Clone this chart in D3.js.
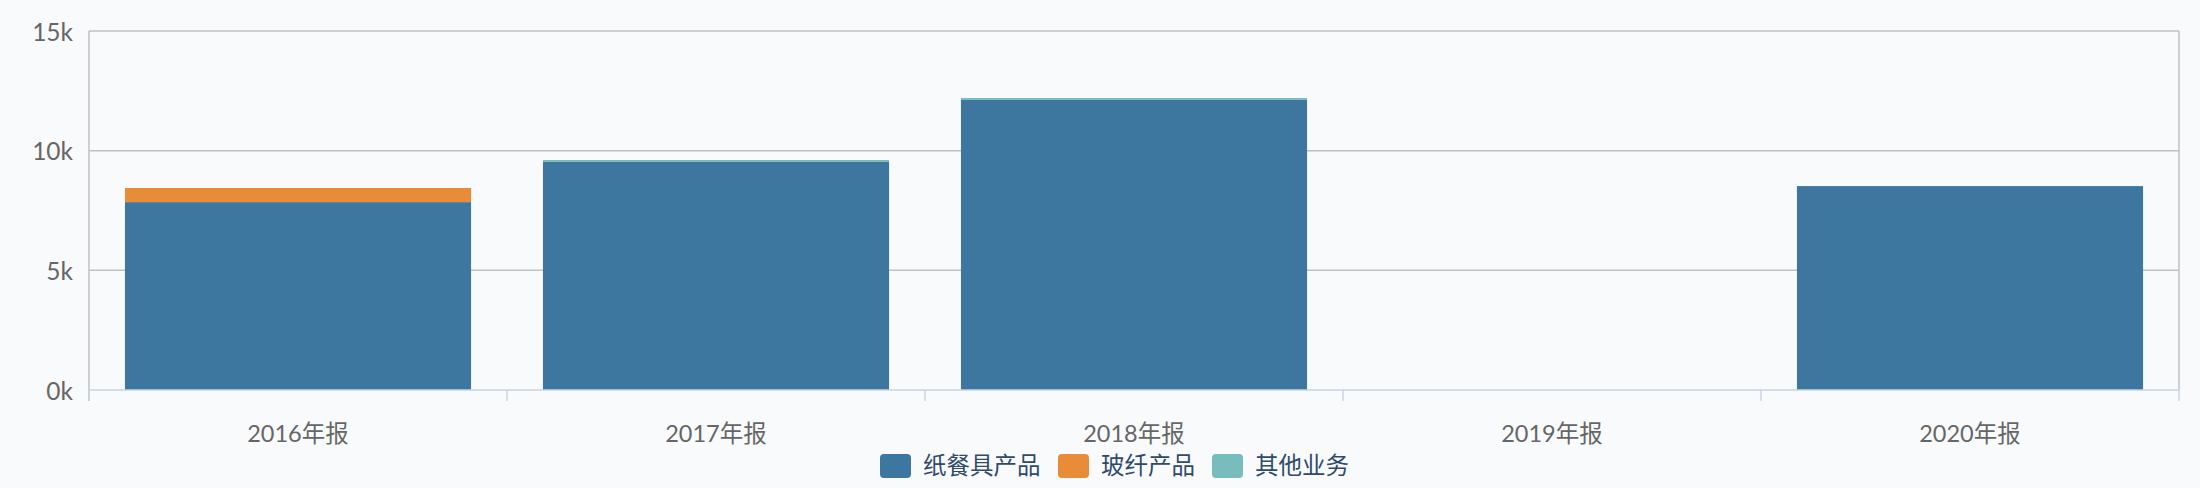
<!DOCTYPE html>
<html><head><meta charset="utf-8">
<script src="https://cdn.jsdelivr.net/npm/d3@7"></script>
<style>
html,body{margin:0;padding:0;background:#f9fafc;}
svg{display:block;}
</style></head>
<body>
<svg id="chart" width="2200" height="488"></svg>
<script>
const categories = ["2016年报","2017年报","2018年报","2019年报","2020年报"];
const seriesNames = ["纸餐具产品","玻纤产品","其他业务"];
const paperValues = [7850, 9530, 12120, 0, 8520];
const glassValues = [590, 0, 0, 0, 0];
const otherValues = [0, 80, 80, 0, 0];
const yTicks = [0, 5000, 10000, 15000];
const colors = ["#3d769e", "#e88c3a", "#78bcbe"];

const W = 2200, H = 488;
const m = {left: 89, right: 21, top: 31, bottom: 98};
const svg = d3.select("#chart");
svg.append("rect").attr("width", W).attr("height", H).attr("fill", "#f9fafc");

const x = d3.scaleBand().domain(categories).range([m.left, W - m.right]).paddingInner(0.172).paddingOuter(0.086);
const xb = d3.scaleBand().domain(categories).range([m.left, W - m.right]);
const y = d3.scaleLinear().domain([0, 15000]).range([H - m.bottom, m.top]);

const rows = categories.map((c, i) => ({cat: c, "纸餐具产品": paperValues[i], "玻纤产品": glassValues[i], "其他业务": otherValues[i]}));
const stacked = d3.stack().keys(seriesNames)(rows);

// grid
const g = svg.append("g");
g.selectAll("line.grid").data(yTicks.filter(t => t > 0)).enter().append("line")
  .attr("x1", m.left).attr("x2", W - m.right)
  .attr("y1", d => y(d)).attr("y2", d => y(d))
  .attr("stroke", "#c0c0c0").attr("stroke-width", 1.5);
// left & right border
g.append("line").attr("x1", m.left).attr("x2", m.left).attr("y1", y(15000)).attr("y2", y(0) + 11)
  .attr("stroke", "#c0c0c0").attr("stroke-width", 1.5);
g.append("line").attr("x1", W - m.right).attr("x2", W - m.right).attr("y1", y(15000)).attr("y2", y(0))
  .attr("stroke", "#c0c0c0").attr("stroke-width", 1.5);

// bars
svg.append("g").selectAll("g").data(stacked).enter().append("g")
  .attr("fill", (d, i) => colors[i])
  .selectAll("rect").data(d => d).enter().append("rect")
  .attr("x", d => x(d.data.cat))
  .attr("width", x.bandwidth())
  .attr("y", d => y(d[1]))
  .attr("height", d => Math.max(0, y(d[0]) - y(d[1])));

// x axis
const xa = svg.append("g");
xa.append("line").attr("x1", m.left).attr("x2", W - m.right).attr("y1", y(0)).attr("y2", y(0))
  .attr("stroke", "#c6d4e3").attr("stroke-width", 1.5);
const bounds = categories.map(c => xb(c)).concat([W - m.right]);
xa.selectAll("line.tick").data(bounds).enter().append("line")
  .attr("x1", d => d).attr("x2", d => d).attr("y1", y(0)).attr("y2", y(0) + 11)
  .attr("stroke", "#c6d4e3").attr("stroke-width", 1.5);
xa.selectAll("text").data(categories).enter().append("text")
  .attr("x", d => xb(d) + xb.bandwidth() / 2).attr("y", 442)
  .attr("text-anchor", "middle")
  .attr("font-family", "Lato, 'Noto Sans CJK SC', sans-serif")
  .attr("font-size", 23.5).attr("fill", "#666")
  .text(d => d);

// y labels
svg.append("g").selectAll("text").data(yTicks).enter().append("text")
  .attr("x", 73).attr("y", d => y(d) + 1).attr("dy", "0.36em")
  .attr("text-anchor", "end")
  .attr("font-family", "Lato, 'Noto Sans CJK SC', sans-serif")
  .attr("font-size", 24.5).attr("fill", "#666")
  .text(d => d3.format("d")(d / 1000) + "k");

// legend
const legendX = [880, 1058, 1212];
const lg = svg.append("g");
seriesNames.forEach((s, i) => {
  lg.append("rect").attr("x", legendX[i]).attr("y", 454).attr("width", 31).attr("height", 24)
    .attr("rx", 4).attr("fill", colors[i]);
  lg.append("text").attr("x", legendX[i] + 43).attr("y", 466).attr("dy", "0.36em")
    .attr("font-family", "'Noto Sans CJK SC', sans-serif")
    .attr("font-size", 23.5).attr("fill", "#2f4b68")
    .text(s);
});
</script>
</body></html>
